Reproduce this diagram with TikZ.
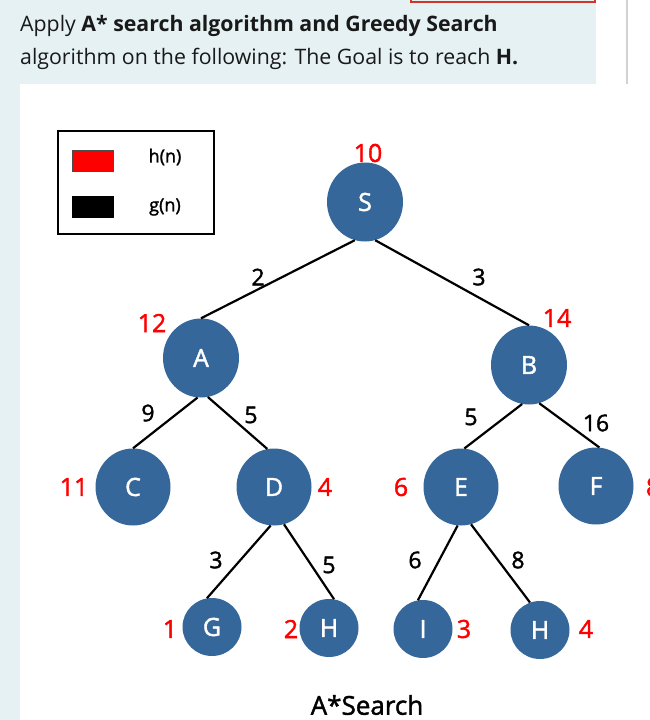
\documentclass[tikz,border=0pt]{standalone}
\usepackage{fontspec}
\setmainfont{Open Sans}
\newfontfamily\diagfont{Open Sans}[FakeBold=1.6]
\usetikzlibrary{shapes.geometric}
\definecolor{nodeblue}{RGB}{53,103,154}
\definecolor{bgblue}{RGB}{230,241,244}
\definecolor{framered}{RGB}{208,53,43}
\definecolor{titlegray}{RGB}{25,25,25}
\begin{document}
\begin{tikzpicture}[x=1pt,y=-1pt,
  tnode/.style={ellipse, fill=nodeblue, draw=none, inner sep=0pt, text=white,
    font=\diagfont\fontsize{25}{25}\selectfont},
  bignode/.style={minimum width=76pt, minimum height=79pt},
  midnode/.style={minimum width=75pt, minimum height=77pt},
  smallnode/.style={minimum width=59pt, minimum height=58pt},
  hval/.style={text=red, inner sep=0pt, font=\diagfont\fontsize{25}{25}\selectfont},
  gval/.style={text=black, inner sep=0pt, font=\diagfont\fontsize{23}{23}\selectfont},
  link/.style={draw=black, line width=2.2pt},
  titletext/.style={anchor=base west, inner sep=0pt, text=titlegray,
    font=\fontsize{21.3}{21.3}\selectfont},
  legtext/.style={inner sep=0pt, font=\diagfont\fontsize{18}{18}\selectfont}
]
\useasboundingbox (0,0) rectangle (649,720);
% backgrounds
\fill[bgblue] (0,0) rectangle (596,84);
\fill[bgblue] (0,84) rectangle (20,720);
\draw[framered, line width=1.5pt] (411,-5) rectangle (595,2);
\draw[gray!35, line width=1.5pt] (627,0) -- (627,84);

% title
\node[titletext] (t1) at (20,31) {Apply \textbf{A* search algorithm and Greedy Search}};
\node[titletext] (t2) at (20,64) {algorithm on the following: The Goal is to reach \textbf{H.}};

% legend
\draw[line width=1.1pt] (58,131) rectangle (214,234);
\node[draw=black!70, fill=red, line width=0.8pt, minimum width=41pt, minimum height=21pt, inner sep=0pt] (hsw) at (92.5,160.5) {};
\node[draw=black, fill=black, minimum width=41pt, minimum height=21pt, inner sep=0pt] (gsw) at (92.5,206.5) {};
\node[legtext] (hlab) at (165,157) {h(n)};
\node[legtext] (glab) at (165,207) {g(n)};

% nodes
\node[tnode, bignode] (S) at (365,202) {S};
\node[tnode, bignode] (A) at (201,358) {A};
\node[tnode, bignode] (B) at (529,365) {B};
\node[tnode, midnode] (C) at (133,487) {C};
\node[tnode, midnode] (D) at (274,487) {D};
\node[tnode, midnode] (E) at (461,487) {E};
\node[tnode, midnode] (F) at (596,486) {F};
\node[tnode, smallnode] (G) at (212,627) {G};
\node[tnode, smallnode] (H1) at (329,628) {H};
\node[tnode, smallnode] (I) at (423,629) {I};
\node[tnode, smallnode] (H2) at (540,630) {H};

% edges
\draw[link] (S.255) -- (A.north);
\draw[link] (S.285) -- (B.north);
\draw[link] (A.265) -- (C.north);
\draw[link] (A.280) -- (D.100);
\draw[link] (B.260) -- (E.85);
\draw[link] (B.285) -- (F.85);
\draw[link] (D.265) -- (G.100);
\draw[link] (D.285) -- (H1.80);
\draw[link] (E.265) -- (I.100);
\draw[link] (E.285) -- (H2.110);

% h values
\node[hval] (hS) at (368,153) {10};
\node[hval] (hA) at (152,323) {12};
\node[hval] (hB) at (557,318) {14};
\node[hval] (hC) at (74,487) {11};
\node[hval] (hD) at (325,487) {4};
\node[hval] (hE) at (401,487) {6};
\node[hval] (hF) at (653,487) {8};
\node[hval] (hG) at (170,629) {1};
\node[hval] (hH1) at (291,629) {2};
\node[hval] (hI) at (464,629) {3};
\node[hval] (hH2) at (586,629) {4};

% edge costs
\node[gval] (gSA) at (258,277) {2};
\node[gval] (gSB) at (479,277) {3};
\node[gval] (gAC) at (148,413) {9};
\node[gval] (gAD) at (251,415) {5};
\node[gval] (gBE) at (471,417) {5};
\node[gval] (gBF) at (596,423) {16};
\node[gval] (gDG) at (216,560) {3};
\node[gval] (gDH) at (329,565) {5};
\node[gval] (gEI) at (415,560) {6};
\node[gval] (gEH) at (518,560) {8};

% caption
\node[inner sep=0pt, font=\diagfont\fontsize{26}{26}\selectfont] (cap) at (367,705) {A*Search};
\end{tikzpicture}
\end{document}
